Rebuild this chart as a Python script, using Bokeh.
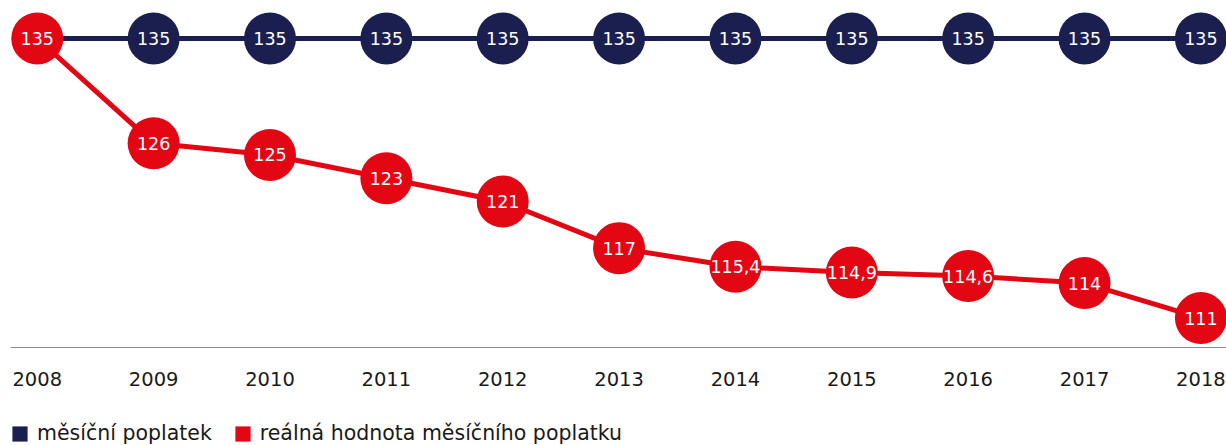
from bokeh.plotting import figure
from bokeh.models import Range1d, FixedTicker, Legend, LegendItem, ColumnDataSource
from bokeh.layouts import column
from bokeh.core.properties import value
from bokeh.embed import file_html
from bokeh.resources import INLINE

years = [2008, 2009, 2010, 2011, 2012, 2013, 2014, 2015, 2016, 2017, 2018]
monthly_fee = [135, 135, 135, 135, 135, 135, 135, 135, 135, 135, 135]
real_value = [135, 126, 125, 123, 121, 117, 115.4, 114.9, 114.6, 114, 111]
fee_labels = ["135"] * 11
real_labels = ["135", "126", "125", "123", "121", "117", "115,4", "114,9", "114,6", "114", "111"]
series_names = ["měsíční poplatek", "reálná hodnota měsíčního poplatku"]

NAVY = "#1b1f50"
RED = "#e30613"
FONT = "DejaVu Sans"

p = figure(width=1226, height=405,
           x_range=Range1d(2007.77, 2018.22), y_range=Range1d(108.47, 138.26),
           output_backend="svg", toolbar_location=None, y_axis_location=None,
           min_border_left=10, min_border_right=0, min_border_top=0, min_border_bottom=58)
p.outline_line_color = None
p.xgrid.visible = False
p.ygrid.visible = False
p.background_fill_color = None
p.border_fill_color = "white"

ax = p.xaxis[0]
ax.ticker = FixedTicker(ticks=years)
ax.major_tick_line_color = None
ax.minor_tick_line_color = None
ax.axis_line_color = "#8c8c8c"
ax.axis_line_width = 1
ax.major_label_standoff = 18
ax.major_label_text_font = FONT
ax.major_label_text_font_size = "19.5px"
ax.major_label_text_color = "#1a1a1a"

src_fee = ColumnDataSource(dict(x=years[1:], y=monthly_fee[1:], t=fee_labels[1:]))
src_real = ColumnDataSource(dict(x=years, y=real_value, t=real_labels))

p.line(years, monthly_fee, line_color=NAVY, line_width=5)
p.scatter("x", "y", source=src_fee, size=52, fill_color=NAVY, line_color=None)
p.line(years, real_value, line_color=RED, line_width=5)
p.scatter("x", "y", source=src_real, size=52, fill_color=RED, line_color=None)
p.text("x", "y", text="t", source=src_fee, text_color="white", text_font=value(FONT),
       text_font_size="17.5px", text_align="center", text_baseline="middle")
p.text("x", "y", text="t", source=src_real, text_color="white", text_font=value(FONT),
       text_font_size="17.5px", text_align="center", text_baseline="middle")

# legend strip
nan = float("nan")
p2 = figure(width=1226, height=40, output_backend="svg", toolbar_location=None,
            x_axis_location=None, y_axis_location=None,
            min_border_left=8, min_border_right=0, min_border_top=0, min_border_bottom=0)
p2.outline_line_color = None
p2.xgrid.visible = False
p2.ygrid.visible = False
p2.background_fill_color = None
r1 = p2.quad(left=[nan], right=[nan], top=[nan], bottom=[nan], fill_color=NAVY, line_color=None)
r2 = p2.quad(left=[nan], right=[nan], top=[nan], bottom=[nan], fill_color=RED, line_color=None)
legend = Legend(items=[LegendItem(label=series_names[0], renderers=[r1]),
                       LegendItem(label=series_names[1], renderers=[r2])],
                orientation="horizontal", location="bottom_left", margin=0, padding=0,
                spacing=21, label_standoff=8, glyph_width=19, glyph_height=19,
                label_text_font=FONT, label_text_font_size="20.5px",
                label_text_color="#1a1a1a", border_line_color=None,
                background_fill_alpha=0)
p2.add_layout(legend, "center")

open("out.html", "w").write(file_html(column(p, p2, spacing=0), INLINE))
